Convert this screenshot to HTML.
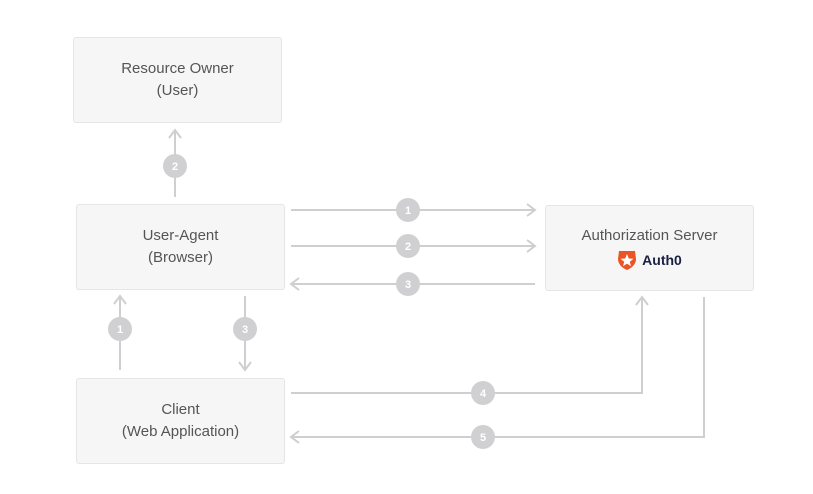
<!DOCTYPE html>
<html><head><style>
body{margin:0;width:813px;height:494px;background:#fff;position:relative;font-family:"Liberation Sans",sans-serif;overflow:hidden}
.b{position:absolute;background:#f6f6f7;border:1px solid #e6e6e8;border-radius:3px;box-sizing:border-box;display:flex;flex-direction:column;align-items:center;justify-content:center;color:#555;font-size:15px;line-height:22px;text-align:center}
svg{position:absolute;left:0;top:0}
</style></head><body>
<div class="b" style="left:73px;top:37px;width:209px;height:86px">Resource Owner<br>(User)</div>
<div class="b" style="left:76px;top:204px;width:209px;height:86px">User-Agent<br>(Browser)</div>
<div class="b" style="left:76px;top:378px;width:209px;height:86px">Client<br>(Web Application)</div>
<div class="b" style="left:545px;top:205px;width:209px;height:86px"><div>Authorization Server</div>
<div style="display:flex;align-items:center;margin-top:2px;font-size:14px;font-weight:bold;color:#1a2140"><svg style="position:static;margin-right:5px" width="20" height="22" viewBox="0 0 20 22"><path d="M2 2h16l1 8c0 5-4 9-9 11C5 19 1 15 1 10z" fill="#eb5424"/><polygon points="10,5 11.8,9.5 16.5,9.7 12.8,12.7 14,17.3 10,14.6 6,17.3 7.2,12.7 3.5,9.7 8.2,9.5" fill="#fff"/></svg>Auth0</div></div>
<svg width="813" height="494" fill="none" stroke="#cfcfd1" stroke-width="2">
<path d="M291 210H535M527 204l8 6-8 6"/>
<path d="M291 246H535M527 240l8 6-8 6"/>
<path d="M535 284H291M299 278l-8 6 8 6"/>
<path d="M175 197V130M169 138l6-8 6 8"/>
<path d="M120 370V296M114 304l6-8 6 8"/>
<path d="M245 296V370M239 362l6 8 6-8"/>
<path d="M291 393H642V297M636 305l6-8 6 8"/>
<path d="M704 297V437H291M299 431l-8 6 8 6"/>
<g fill="#d0d0d2" stroke="none">
<circle cx="408" cy="210" r="12"/><circle cx="408" cy="246" r="12"/><circle cx="408" cy="284" r="12"/>
<circle cx="175" cy="166" r="12"/><circle cx="120" cy="329" r="12"/><circle cx="245" cy="329" r="12"/>
<circle cx="483" cy="393" r="12"/><circle cx="483" cy="437" r="12"/></g>
<g fill="#fff" stroke="none" font-family="Liberation Sans,sans-serif" font-size="11" font-weight="bold" text-anchor="middle">
<text x="408" y="214">1</text><text x="408" y="250">2</text><text x="408" y="288">3</text>
<text x="175" y="170">2</text><text x="120" y="333">1</text><text x="245" y="333">3</text>
<text x="483" y="397">4</text><text x="483" y="441">5</text></g>
</svg>
</body></html>
